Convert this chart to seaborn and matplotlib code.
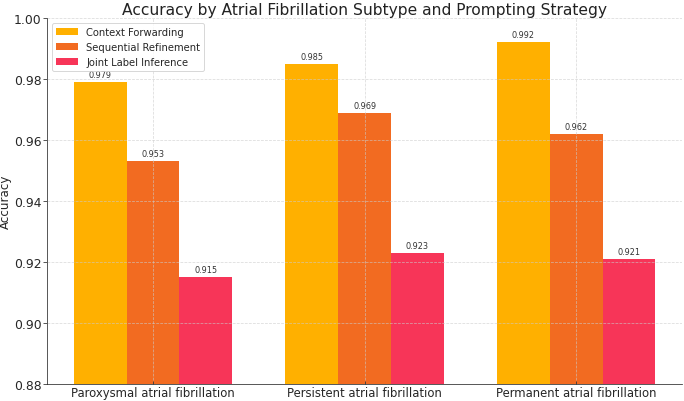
import pandas as pd
import matplotlib
matplotlib.use("Agg")
import matplotlib.pyplot as plt
import seaborn as sns

# data
subtypes = ["Paroxysmal atrial fibrillation", "Persistent atrial fibrillation", "Permanent atrial fibrillation"]
strategies = ["Context Forwarding", "Sequential Refinement", "Joint Label Inference"]
context_forwarding = [0.979, 0.985, 0.992]
sequential_refinement = [0.953, 0.969, 0.962]
joint_label_inference = [0.915, 0.923, 0.921]
colors = ["#FFB000", "#F26B21", "#F73558"]

rows = []
for strat, vals in zip(strategies, [context_forwarding, sequential_refinement, joint_label_inference]):
    for sub, v in zip(subtypes, vals):
        rows.append({"Subtype": sub, "Strategy": strat, "Accuracy": v})
df = pd.DataFrame(rows)

sns.set_style("ticks")
fig, ax = plt.subplots(figsize=(10, 5.877), dpi=68.4)
sns.barplot(data=df, x="Subtype", y="Accuracy", hue="Strategy", order=subtypes,
            hue_order=strategies, palette=colors, width=0.75, gap=0, saturation=1,
            errorbar=None, linewidth=0, ax=ax)

for cont in ax.containers:
    ax.bar_label(cont, fmt="%.3f", padding=3, fontsize=8.5, color="#333333")

ax.set_ylim(0.88, 1.0)
ax.set_yticks([0.88, 0.90, 0.92, 0.94, 0.96, 0.98, 1.00])
ax.set_yticklabels([f"{t:.2f}" for t in ax.get_yticks()])
ax.set_title("Accuracy by Atrial Fibrillation Subtype and Prompting Strategy", fontsize=16.3, color="#222222", pad=4)
ax.set_xlabel("")
ax.set_ylabel("Accuracy", fontsize=12.5, labelpad=2)
ax.tick_params(axis="y", labelsize=13, length=4, pad=2)
ax.tick_params(axis="x", labelsize=12.3, length=3, direction="in", pad=2)
ax.grid(True, linestyle="--", color="#cccccc", linewidth=0.8, alpha=0.7)
ax.set_axisbelow(False)
sns.despine(ax=ax)
ax.legend(loc="upper left", fontsize=10.5, title=None, frameon=True,
          borderaxespad=0.5, handlelength=2.2)

plt.subplots_adjust(left=0.069, right=0.997, top=0.953, bottom=0.042)
plt.savefig("out.png", dpi=68.4)
